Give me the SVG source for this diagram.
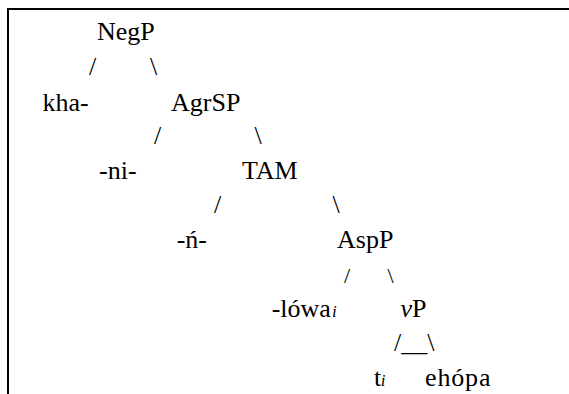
<svg xmlns="http://www.w3.org/2000/svg" width="569" height="394" viewBox="0 0 569 394">
  <style>
    .t { font-family: 'Liberation Serif', serif; font-size: 26px; fill: #000; }
    .sub { font-size: 17px; font-style: italic; }
    .it { font-style: italic; }
    .small { font-size: 22px; }
    .frame { fill: none; stroke: #000; stroke-width: 2; }
  </style>
  <rect width="569" height="394" fill="#fff"/>
  <!-- frame: top and left rules -->
  <path class="frame" d="M8,394 V9 H569"/>

  <!-- branches of the tree -->
  <g id="connectors">
    <text class="t" x="89" y="74.6">/</text>
    <text class="t" x="150" y="74.6">\</text>
    <text class="t" x="154" y="143.8">/</text>
    <text class="t" x="254.5" y="143.8">\</text>
    <text class="t" x="214" y="213">/</text>
    <text class="t" x="332.5" y="213">\</text>
    <text class="t small" x="344" y="282.5">/</text>
    <text class="t small" x="387.5" y="282.5">\</text>
    <text class="t" x="394" y="351.4">/__\</text>
  </g>

  <g id="NegP"><text class="t" x="97" y="40">NegP</text></g>
  <g id="kha"><text class="t" x="42.5" y="110.5">kha-</text></g>
  <g id="AgrSP"><text class="t" x="171" y="110.5">AgrSP</text></g>
  <g id="ni"><text class="t" x="99" y="179.3">-ni-</text></g>
  <g id="TAM"><text class="t" x="242" y="179.3">TAM</text></g>
  <g id="n"><text class="t" x="176.7" y="248.3">-ń-</text></g>
  <g id="AspP"><text class="t" x="337" y="248.3">AspP</text></g>
  <g id="lowa"><text class="t" x="271.7" y="317">-lówa<tspan class="sub" dx="1">i</tspan></text></g>
  <g id="vP"><text class="t" x="400.5" y="317"><tspan class="it">v</tspan>P</text></g>
  <g id="t"><text class="t" x="374" y="386">t<tspan class="sub" dx="-0.5">i</tspan></text></g>
  <g id="ehopa"><text class="t" x="425" y="386" textLength="65.5">ehópa</text></g>
</svg>
